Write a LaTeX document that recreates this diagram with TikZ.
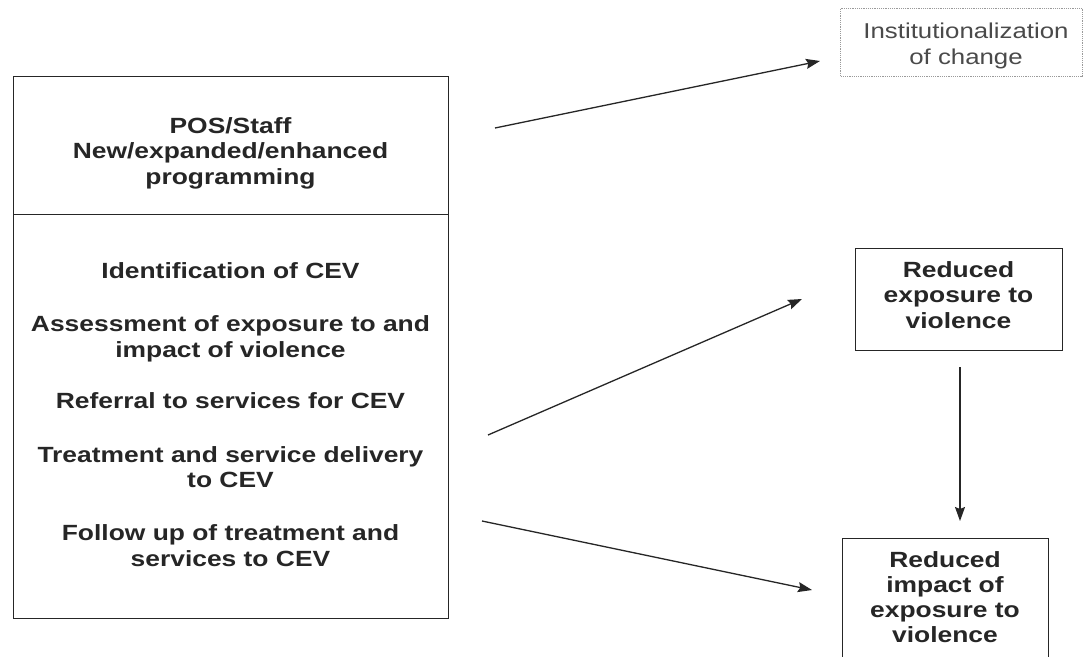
\documentclass[tikz,border=0pt]{standalone}
\usepackage{fontspec}
\setmainfont{Liberation Sans}[FakeStretch=1.2]
\usetikzlibrary{arrows.meta}
\definecolor{ink}{HTML}{262626}
\definecolor{lightink}{HTML}{4A4A4A}
\definecolor{dotgray}{HTML}{9A9A9A}
\tikzset{
  boxline/.style={draw=ink, line width=1.4pt},
  plainbox/.style={boxline, inner sep=0pt, fill=none},
  bt/.style={anchor=base, inner sep=0pt, text=ink, font=\fontsize{22}{26}\selectfont\bfseries},
  rt/.style={anchor=base, inner sep=0pt, text=lightink, font=\fontsize{21.5}{26}\selectfont},
  conn/.style={draw=ink, line width=1.3pt, -{Stealth[length=14pt,width=10pt,inset=2pt]}}
}
\begin{document}
\begin{tikzpicture}[x=1pt,y=-1pt]
\clip (0,0) rectangle (1084,656);
\fill[white] (0,0) rectangle (1084,656);
% left box
\node[plainbox, minimum width=435pt, minimum height=138pt, anchor=north west] (top) at (13,76) {};
\node[plainbox, minimum width=435pt, minimum height=404pt, anchor=north west] (bot) at (13,214) {};
% top box text
\node[bt] (t1) at (230.5,133) {POS/Staff};
\node[bt] (t2) at (230.5,158) {New/expanded/enhanced};
\node[bt] (t3) at (230.5,184) {programming};
% bottom box text
\node[bt] (b1) at (230.5,278) {Identification of CEV};
\node[bt] (b2) at (230.5,331) {Assessment of exposure to and};
\node[bt] (b3) at (230.5,357) {impact of violence};
\node[bt] (b4) at (230.5,408) {Referral to services for CEV};
\node[bt] (b5) at (230.5,462) {Treatment and service delivery};
\node[bt] (b6) at (230.5,487) {to CEV};
\node[bt] (b7) at (230.5,540) {Follow up of treatment and};
\node[bt] (b8) at (230.5,566) {services to CEV};
% institutionalization box
\node[draw=dotgray, line width=1.2pt, densely dotted, minimum width=242pt, minimum height=68pt, anchor=north west, inner sep=0pt] (inst) at (840,8) {};
\node[rt] (i1) at (966,38) {Institutionalization};
\node[rt] (i2) at (966,64) {of change};
% reduced exposure
\node[plainbox, minimum width=207pt, minimum height=102pt, anchor=north west] (exp) at (855,248) {};
\node[bt] (e1) at (958.5,277) {Reduced};
\node[bt] (e2) at (958.5,302) {exposure to};
\node[bt] (e3) at (958.5,328) {violence};
% reduced impact
\node[plainbox, minimum width=206pt, minimum height=124pt, anchor=north west] (imp) at (842,538) {};
\node[bt] (m1) at (945,567) {Reduced};
\node[bt] (m2) at (945,592) {impact of};
\node[bt] (m3) at (945,617) {exposure to};
\node[bt] (m4) at (945,642) {violence};
% connectors
\coordinate (a1s) at (495,128);
\coordinate (a1e) at (820,61);
\coordinate (a2s) at (488,435);
\coordinate (a2e) at (802,299);
\coordinate (a3s) at (482,521);
\coordinate (a3e) at (812,590);
\coordinate (a4s) at (960,367);
\coordinate (a4e) at (960,521);
\draw[conn] (a1s) -- (a1e);
\draw[conn] (a2s) -- (a2e);
\draw[conn] (a3s) -- (a3e);
\draw[conn] (a4s) -- (a4e);
\end{tikzpicture}
\end{document}
